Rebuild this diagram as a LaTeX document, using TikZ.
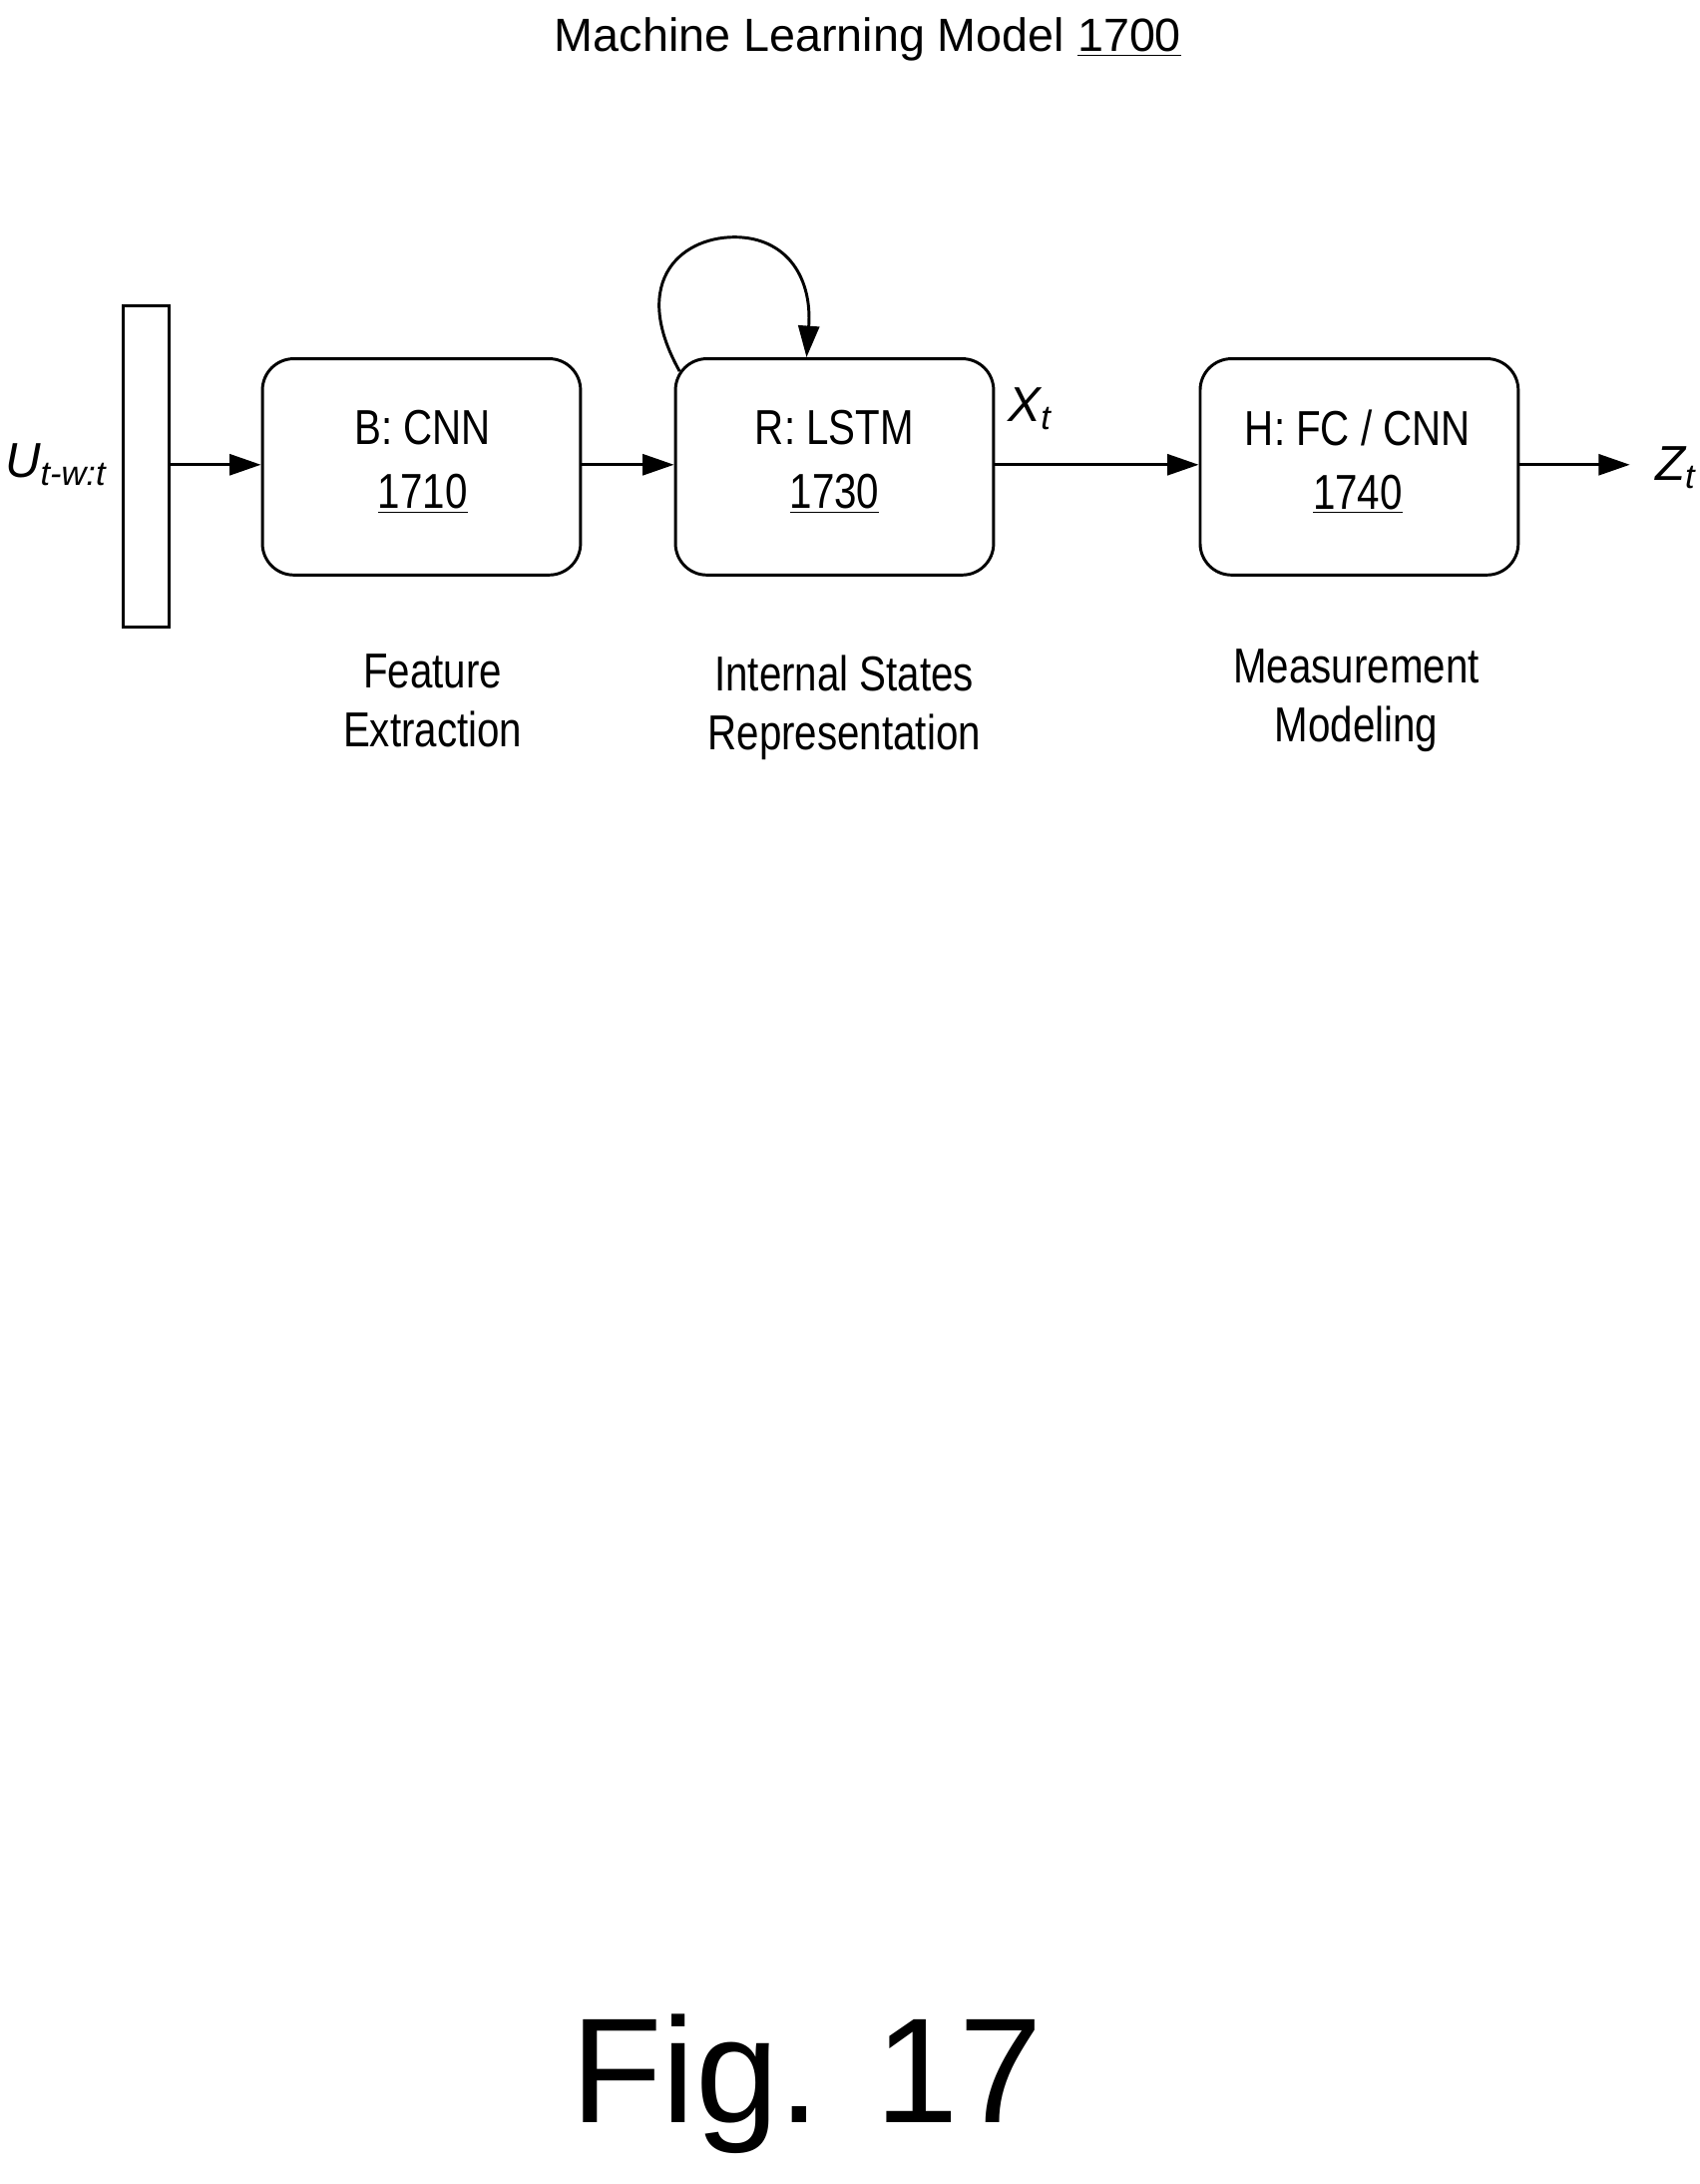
\documentclass[tikz,border=0pt]{standalone}
\usepackage{fontspec}
\setmainfont{Liberation Sans}
\newfontfamily\narrow[FakeStretch=0.82]{Liberation Sans}
\usetikzlibrary{arrows.meta}
\begin{document}
\begin{tikzpicture}[x=0.02cm,y=-0.02cm,
  blk/.style={draw,line width=1.2pt,rounded corners=0.45cm,minimum width=4.56cm,minimum height=3.1cm,anchor=north west,inner sep=0pt},
  arr/.style={line width=1.2pt,-{Triangle[length=0.45cm,width=0.3cm]}},
  nt/.style={font=\narrow\fontsize{20}{24}\selectfont,align=center}]
\useasboundingbox (0,0) rectangle (1218,1565);
\node (title) at (622,28) {\fontsize{19}{22}\selectfont Machine Learning Model \underline{1700}};
\node[draw,line width=1.2pt,minimum width=0.66cm,minimum height=4.6cm,anchor=north west,inner sep=0pt] (in) at (87,218) {};
\node (u) at (40,333) {\fontsize{20}{24}\selectfont\itshape U\textsubscript{t-w:t}};
\node[blk] (b) at (187,256) {};
\node[blk] (r) at (483,256) {};
\node[blk] (h) at (859,256) {};
\node[nt] at (303,331) {B: CNN\\[2pt]\underline{1710}};
\node[nt] at (598,331) {R: LSTM\\[2pt]\underline{1730}};
\node[nt] at (973,331) {H: FC / CNN\\[2pt]\underline{1740}};
\node (x) at (738,293) {\fontsize{20}{24}\selectfont\itshape X\textsubscript{t}};
\coordinate (zend) at (1168,333);
\node[anchor=west] (z) at (1180,335) {\fontsize{20}{24}\selectfont\itshape Z\textsubscript{t}};
\draw[arr] (in.east|-0,333) -- (b.west|-0,333);
\draw[arr] (b.east|-0,333) -- (r.west|-0,333);
\draw[arr] (r.east|-0,333) -- (h.west|-0,333);
\draw[arr] (h.east|-0,333) -- (zend);
\coordinate (ls) at (487,266);
\coordinate (le) at (578,256);
\draw[arr] (ls) .. controls (450,200) and (490,168) .. (530,170) .. controls (565,172) and (582,200) .. (le);
\node[nt] at (310,502) {Feature\\Extraction};
\node[nt] at (605,507) {Internal States\\Representation};
\node[nt] at (972,502) {Measurement\\Modeling};
\node (fig) at (578,1493) {\fontsize{61}{70}\selectfont Fig. 17};
\end{tikzpicture}
\end{document}
